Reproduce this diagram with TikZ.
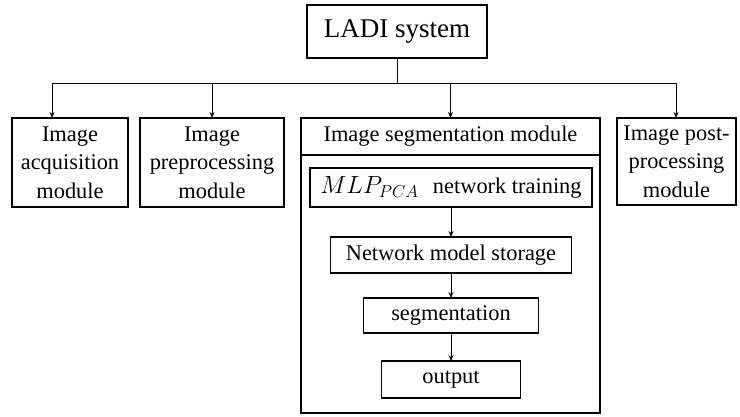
\documentclass[tikz,border=0pt]{standalone}
\usepackage{fontspec}
\setmainfont{Liberation Serif}
\usepackage{tikz}
\usetikzlibrary{arrows.meta, positioning, calc}
\tikzset{
  % Outer module box
  module/.style={
    rectangle, draw=black, line width=1.6pt,
    inner sep=0pt, outer sep=0pt,
    align=center,
    font=\fontsize{22.4}{28.5}\selectfont
  },
  % Inner step box
  stepbox/.style={
    rectangle, draw=black, line width=1.6pt,
    inner sep=0pt, outer sep=0pt,
    align=center,
    font=\fontsize{22.4}{26}\selectfont
  },
  % Arrow style
  arrow/.style={
    -{Stealth[length=6pt,width=5pt]}, line width=0.8pt, draw=black
  },
  % Plain connector
  wire/.style={
    line width=0.8pt, draw=black
  }
}
\begin{document}
\begin{tikzpicture}[x=1pt, y=-1pt]
\useasboundingbox (0,0) rectangle (740,416);

% Top
\node[module, minimum width=180pt, minimum height=53pt,
      font=\fontsize{27}{30}\selectfont] (ladi) at (397,31.5)
  {LADI system};

% Modules
\node[module, minimum width=116pt, minimum height=89pt] (acq) at (70,162.5)
  {Image\\acquisition\\module};

\node[module, minimum width=144pt, minimum height=89pt] (pre) at (212,162.5)
  {Image\\preprocessing\\module};

\node[module, minimum width=299pt, minimum height=295pt] (seg) at (450.5,265.5) {};

\node[module, minimum width=119pt, minimum height=87pt] (post) at (676.5,161.5)
  {Image post-\\processing\\module};

% Segmentation module header
\node[font=\fontsize{22.4}{26}\selectfont] (seg_head) at (450.5,136.5)
  {Image segmentation module};
\coordinate (head_line) at (0,155);
\draw[line width=1.2pt] (seg.west |- head_line) -- (seg.east |- head_line);

% Inner steps
\node[stepbox, minimum width=282pt, minimum height=39pt] (mlp) at (451,187.5)
  {\fontsize{24}{26}\selectfont$MLP_{PCA}$\hspace{0.6em}\fontsize{22.4}{26}\selectfont network training};

\node[stepbox, minimum width=241pt, minimum height=36pt,
      below=30pt of mlp] (storage)
  {Network model storage};

\node[stepbox, minimum width=175pt, minimum height=35pt,
      below=25pt of storage] (segm)
  {segmentation};

\node[stepbox, minimum width=139pt, minimum height=37pt,
      below=28pt of segm] (out)
  {output};

% Bus
\coordinate (bus_left)  at (52,83);
\coordinate (bus_right) at (676,83);
\draw[wire] (ladi.south) -- (ladi.south |- bus_left);
\draw[wire] (bus_left) -- (bus_right);

% Arrows
\draw[arrow] (bus_left)            -- (bus_left |- acq.north);
\draw[arrow] (pre.north |- bus_left) -- (pre.north);
\draw[arrow] (seg.north |- bus_left) -- (seg.north);
\draw[arrow] (bus_right)           -- (bus_right |- post.north);
\draw[arrow] (mlp)     -- (storage);
\draw[arrow] (storage) -- (segm);
\draw[arrow] (segm)    -- (out);

\end{tikzpicture}
\end{document}
